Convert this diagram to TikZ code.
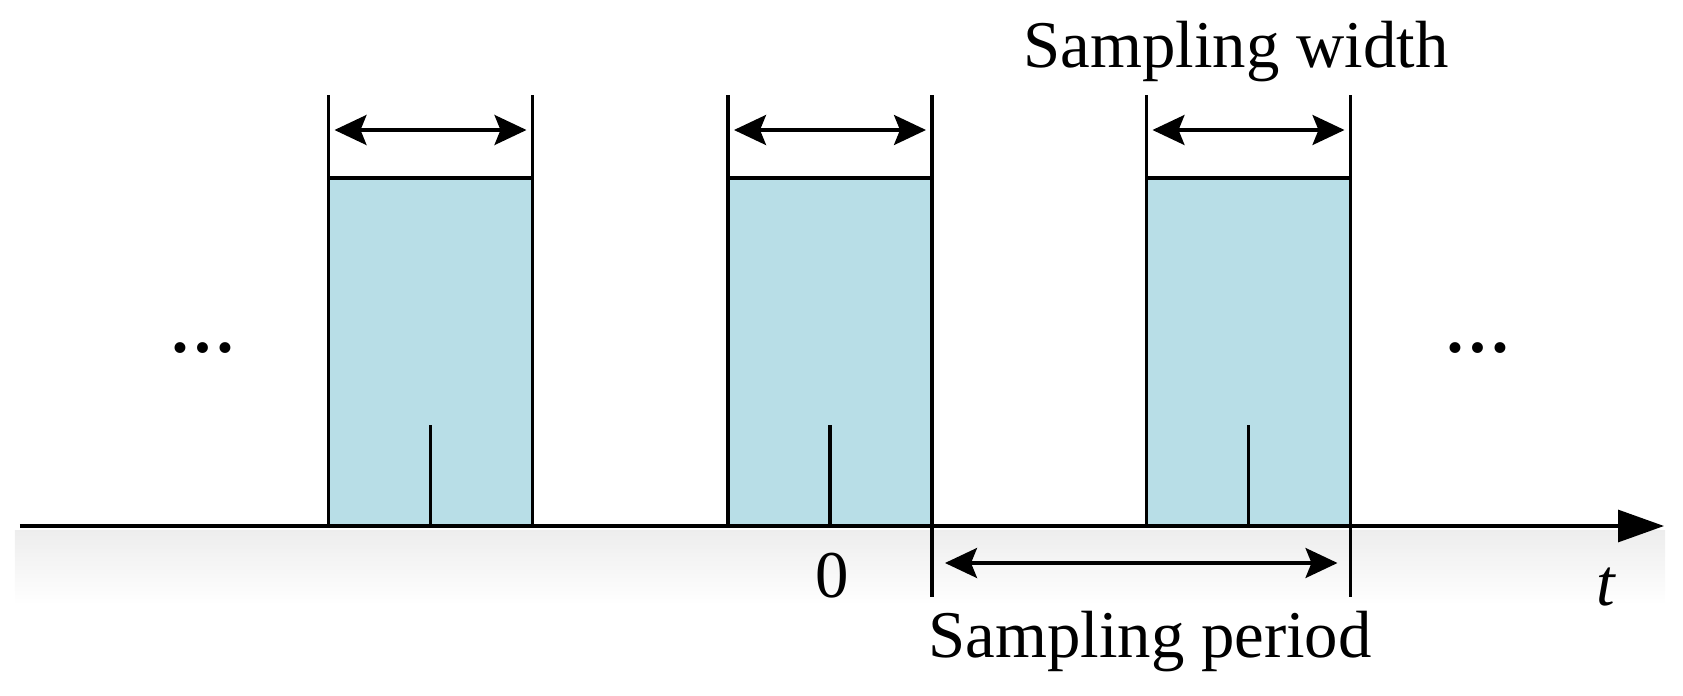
\documentclass[tikz,border=0pt]{standalone}
\usepackage{fontspec}
\setmainfont{Liberation Serif}
\usetikzlibrary{arrows.meta,calc}
\definecolor{pulsefill}{RGB}{184,222,231}
\tikzset{
  line/.style={line width=0.9pt, line cap=butt},
  pulse/.style={draw, line width=0.9pt, fill=pulsefill, minimum width=2.04cm, minimum height=3.48cm, inner sep=0pt, outer sep=0pt},
  dimarrow/.style={line width=0.9pt, {Stealth[length=0.32cm,width=0.30cm,inset=0.06cm]}-{Stealth[length=0.32cm,width=0.30cm,inset=0.06cm]}},
  lbl/.style={font=\fontsize{19}{22}\selectfont, inner sep=0pt},
  dots/.style={font=\fontsize{19}{22}\selectfont\bfseries, inner sep=0pt},
}
\begin{document}
\begin{tikzpicture}
\useasboundingbox (0,0) rectangle (16.83,-6.96);
% faint shadow under axis
\shade[top color=black!7, bottom color=white] (0.15,-5.30) rectangle (16.65,-6.05);
% axis
\coordinate (a0) at (0.2,-5.26);
\coordinate (a1) at (16.64,-5.26);
\draw[line width=0.9pt, -{Triangle[length=0.46cm,width=0.32cm]}] (a0) -- (a1);
% pulses
\node[pulse] (p1) at (4.305,-3.52) {};
\node[pulse] (p2) at (8.30,-3.52) {};
\node[pulse] (p3) at (12.485,-3.52) {};
\foreach \p in {p1,p2,p3}{
  \draw[line] (\p.north west) -- ++(0,0.83) coordinate (\p-tl);
  \draw[line] (\p.north east) -- ++(0,0.83) coordinate (\p-tr);
  \draw[line] (\p.south) -- ++(0,1.01) coordinate (\p-tick);
  \draw[dimarrow] ($(\p.north west)+(0.06,0.48)$) coordinate (\p-wl) -- ($(\p.north east)+(-0.06,0.48)$) coordinate (\p-wr);
}
% period markers
\draw[line] (p2.south east) -- ++(0,-0.71) coordinate (m1);
\draw[line] (p3.south east) -- ++(0,-0.71) coordinate (m2);
\draw[dimarrow] ($(p2.south east)+(0.13,-0.37)$) coordinate (pl) -- ($(p3.south east)+(-0.13,-0.37)$) coordinate (pr);
% labels
\node[lbl, anchor=base] (sw) at (12.36,-0.68) {Sampling width};
\node[lbl, anchor=base] (sp) at (11.50,-6.57) {Sampling period};
\node[lbl, anchor=base] (zero) at (8.32,-5.97) {0};
\node[lbl, anchor=base] (t) at (16.06,-6.05) {\itshape t};
\node[dots, anchor=base] (dl) at (2.03,-3.52) {…};
\node[dots, anchor=base] (dr) at (14.78,-3.52) {…};
\end{tikzpicture}
\end{document}
